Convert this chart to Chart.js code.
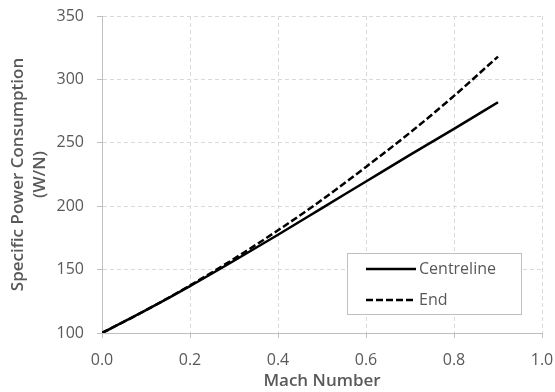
<!DOCTYPE html>
<html>
<head>
<meta charset="utf-8">
<script src="https://cdn.jsdelivr.net/npm/chart.js@4/dist/chart.umd.min.js"></script>
<style>
  html, body { margin: 0; padding: 0; background: #fff; }
  #chart { display: block; }
</style>
</head>
<body>
<canvas id="chart" width="555" height="392"></canvas>
<script>
// Data
const machNumbers = [0.0, 0.1, 0.2, 0.3, 0.4, 0.5, 0.6, 0.7, 0.8, 0.9];
const centreline  = [100, 118, 137, 157, 177.5, 198.5, 219.5, 240.5, 261, 282];
const endValues   = [100, 118, 137.5, 158.5, 181, 205, 231, 258, 287, 318];

const xTitle = 'Mach Number';
const yTitle = ['Specific Power Consumption', '(W/N)'];

const GRAY_TEXT = '#595959';
const AXIS_GRAY = '#bfbfbf';
const GRID_GRAY = '#d9d9d9';

function toPoints(xs, ys) {
  return xs.map((x, i) => ({ x: x, y: ys[i] }));
}

/**
 * Legend box drawn inside the plot area, like the Excel original.
 */
const insideLegend = {
  id: 'insideLegend',
  afterDatasetsDraw(chart) {
    const ctx = chart.ctx;
    const area = chart.chartArea;
    const boxX = Math.round(area.right - 195);
    const boxY = Math.round(area.bottom - 80);
    const boxW = 174;
    const boxH = 61;

    ctx.save();
    ctx.fillStyle = '#fff';
    ctx.fillRect(boxX, boxY, boxW, boxH);
    ctx.strokeStyle = AXIS_GRAY;
    ctx.lineWidth = 1;
    ctx.strokeRect(boxX + 0.5, boxY + 0.5, boxW, boxH);

    ctx.font = '16px "Open Sans"';
    ctx.textAlign = 'left';
    ctx.textBaseline = 'middle';

    chart.data.datasets.forEach((ds, i) => {
      const y = boxY + 16 + i * 31;
      ctx.beginPath();
      ctx.strokeStyle = ds.borderColor;
      ctx.lineWidth = ds.borderWidth;
      ctx.setLineDash(ds.borderDash || []);
      ctx.moveTo(boxX + 19, y);
      ctx.lineTo(boxX + 69, y);
      ctx.stroke();
      ctx.setLineDash([]);
      ctx.fillStyle = GRAY_TEXT;
      ctx.fillText(ds.label, boxX + 72, y);
    });
    ctx.restore();
  }
};

new Chart(document.getElementById('chart'), {
  type: 'line',
  data: {
    datasets: [
      {
        label: 'Centreline',
        data: toPoints(machNumbers, centreline),
        borderColor: '#000',
        borderWidth: 2.5,
        pointRadius: 0,
        cubicInterpolationMode: 'monotone',
        fill: false
      },
      {
        label: 'End',
        data: toPoints(machNumbers, endValues),
        borderColor: '#000',
        borderWidth: 2.5,
        borderDash: [7, 3],
        pointRadius: 0,
        cubicInterpolationMode: 'monotone',
        fill: false
      }
    ]
  },
  options: {
    responsive: false,
    animation: false,
    layout: { padding: { top: 16, right: 13, left: 0, bottom: 0 } },
    plugins: {
      legend: { display: false },
      tooltip: { enabled: false }
    },
    scales: {
      x: {
        type: 'linear',
        min: 0,
        max: 1,
        afterFit(scale) {
          scale.height = 59;
          scale.paddingLeft = 0;
          scale.paddingRight = 0;
        },
        ticks: {
          stepSize: 0.2,
          padding: 13,
          color: GRAY_TEXT,
          font: { family: 'Open Sans', size: 16 },
          maxRotation: 0,
          callback: v => v.toFixed(1)
        },
        grid: {
          color: GRID_GRAY,
          tickColor: AXIS_GRAY,
          tickLength: 5,
          lineWidth: 1
        },
        border: { color: AXIS_GRAY, width: 1, dash: [4, 3] },
        title: {
          display: true,
          text: xTitle,
          color: GRAY_TEXT,
          font: { family: 'Open Sans', size: 17, weight: '600', lineHeight: 1.2 },
          padding: { top: 0, bottom: 1 }
        }
      },
      y: {
        min: 100,
        max: 350,
        afterFit(scale) {
          scale.width = 102;
          scale.paddingTop = 0;
          scale.paddingBottom = 0;
        },
        ticks: {
          stepSize: 50,
          padding: 13,
          color: GRAY_TEXT,
          font: { family: 'Open Sans', size: 16 }
        },
        grid: {
          color: GRID_GRAY,
          tickColor: AXIS_GRAY,
          tickLength: 5,
          lineWidth: 1
        },
        border: { color: AXIS_GRAY, width: 1, dash: [4, 3] },
        title: {
          display: true,
          text: yTitle,
          color: GRAY_TEXT,
          font: { family: 'Open Sans', size: 17, weight: '600', lineHeight: 1.25 },
          padding: { top: 8, bottom: 0 }
        }
      }
    }
  },
  plugins: [insideLegend]
});
</script>
</body>
</html>
